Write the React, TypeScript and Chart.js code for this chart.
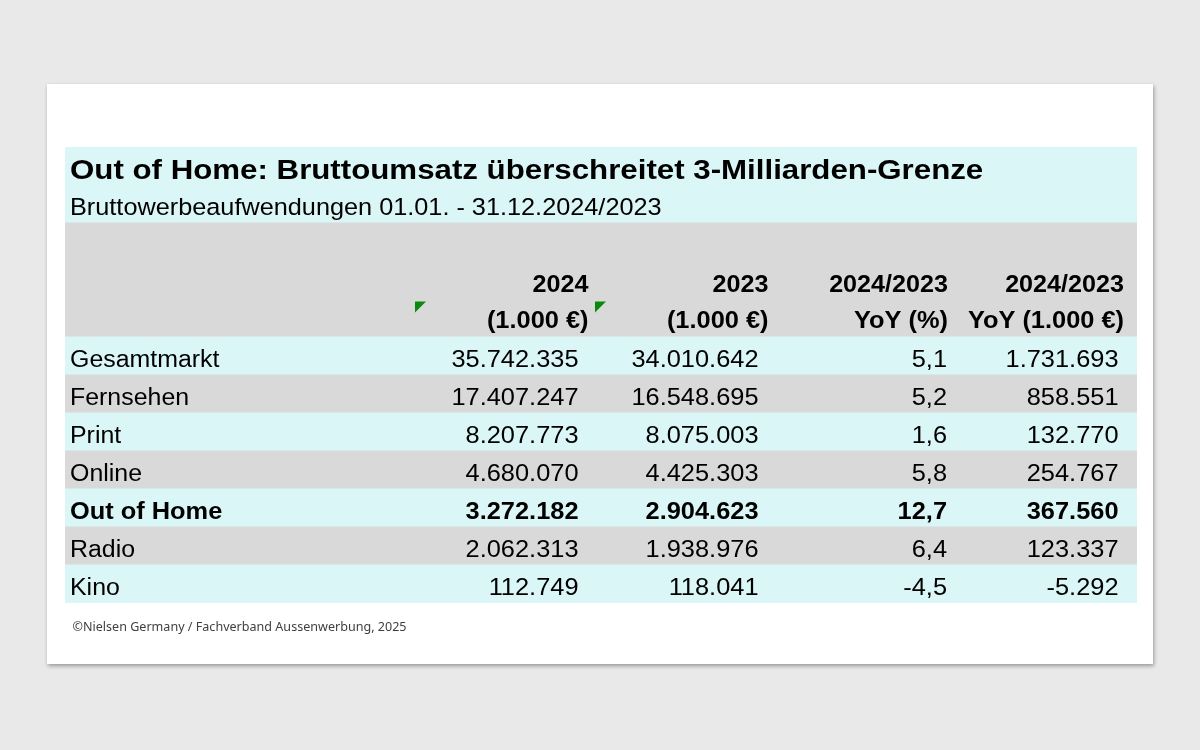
import React, { useEffect, useRef } from "react";
import { Chart, registerables } from "chart.js";

Chart.register(...registerables);

// ---- data ----
const TITLE = "Out of Home: Bruttoumsatz überschreitet 3-Milliarden-Grenze";
const SUBTITLE = "Bruttowerbeaufwendungen 01.01. - 31.12.2024/2023";
const SOURCE = "©Nielsen Germany / Fachverband Aussenwerbung, 2025";
const HEADER_LINE1 = ["2024", "2023", "2024/2023", "2024/2023"];
const HEADER_LINE2 = ["(1.000 €)", "(1.000 €)", "YoY (%)", "YoY (1.000 €)"];
const CATEGORIES = ["Gesamtmarkt", "Fernsehen", "Print", "Online", "Out of Home", "Radio", "Kino"];
const VALUES_2024 = [35742335, 17407247, 8207773, 4680070, 3272182, 2062313, 112749];
const VALUES_2023 = [34010642, 16548695, 8075003, 4425303, 2904623, 1938976, 118041];
const YOY_PCT = [5.1, 5.2, 1.6, 5.8, 12.7, 6.4, -4.5];
const YOY_ABS = [1731693, 858551, 132770, 254767, 367560, 123337, -5292];
const BOLD_ROWS = ["Out of Home"];

// ---- layout / style (not data) ----
const ROW_KEYS = ["title", "subtitle", "head1", "head2", "head3", ...CATEGORIES];
const TABLE_WIDTH = 1072;
const VALUE_RIGHT = [513.5, 693.5, 882, 1053.5];
const HEADER_RIGHT = [523.5, 703.5, 883, 1059];
const MARKERS = [350, 530];
const CYAN = "#dbf6f6";
const GRAY = "#d9d9d9";
const ROW_COLORS = [CYAN, CYAN, GRAY, GRAY, GRAY, CYAN, GRAY, CYAN, GRAY, CYAN, GRAY, CYAN];
const FONT = "'Liberation Sans', Arial, sans-serif";

function fmtInt(v: number): string {
  const neg = v < 0;
  const s = Math.abs(Math.round(v)).toString();
  let out = "";
  for (let i = 0; i < s.length; i++) {
    if (i > 0 && (s.length - i) % 3 === 0) out += ".";
    out += s[i];
  }
  return (neg ? "-" : "") + out;
}
function fmtDec(v: number): string {
  return v.toFixed(1).replace(".", ",");
}

function drawText(
  ctx: CanvasRenderingContext2D,
  text: string,
  x: number,
  y: number,
  align: CanvasTextAlign,
  font: string,
  sx: number,
  color = "#000"
) {
  ctx.save();
  ctx.translate(x, y);
  ctx.scale(sx, 1);
  ctx.font = font;
  ctx.fillStyle = color;
  ctx.textAlign = align;
  ctx.textBaseline = "alphabetic";
  ctx.fillText(text, 0, 0);
  ctx.restore();
}

const tablePlugin = {
  id: "tableText",
  afterDatasetsDraw(chart: any) {
    const ctx: CanvasRenderingContext2D = chart.ctx;
    const xs = chart.scales.x;
    const ys = chart.scales.y;
    const left = xs.getPixelForValue(0);
    const rowY = (i: number) => ys.getPixelForValue(i);
    const textX = left + 5;

    drawText(ctx, TITLE, textX, rowY(0) + 12.5, "left", `bold 28px ${FONT}`, 1.116);
    drawText(ctx, SUBTITLE, textX, rowY(1) + 11, "left", `23.7px ${FONT}`, 1.067);

    HEADER_LINE1.forEach((t, c) => {
      drawText(ctx, t, xs.getPixelForValue(HEADER_RIGHT[c]), rowY(3) + 11.5, "right", `bold 23.5px ${FONT}`, 1.07);
    });
    HEADER_LINE2.forEach((t, c) => {
      drawText(ctx, t, xs.getPixelForValue(HEADER_RIGHT[c]), rowY(4) + 10, "right", `bold 23.5px ${FONT}`, 1.08);
    });

    // green comment markers
    ctx.save();
    ctx.fillStyle = "#0a8a0a";
    MARKERS.forEach((m) => {
      const mx = xs.getPixelForValue(m);
      const my = rowY(4) - 16.5;
      ctx.beginPath();
      ctx.moveTo(mx, my);
      ctx.lineTo(mx + 11, my);
      ctx.lineTo(mx, my + 11);
      ctx.closePath();
      ctx.fill();
    });
    ctx.restore();

    CATEGORIES.forEach((cat, r) => {
      const y = rowY(5 + r) + 10.5;
      const bold = BOLD_ROWS.includes(cat);
      const f = `${bold ? "bold " : ""}23.5px ${FONT}`;
      drawText(ctx, cat, textX, y, "left", f, bold ? 1.08 : 1.06);
      const cells = [fmtInt(VALUES_2024[r]), fmtInt(VALUES_2023[r]), fmtDec(YOY_PCT[r]), fmtInt(YOY_ABS[r])];
      cells.forEach((t, c) => {
        drawText(ctx, t, xs.getPixelForValue(VALUE_RIGHT[c]), y, "right", f, 1.08);
      });
    });

    const bottom = chart.chartArea.bottom;
    drawText(ctx, SOURCE, left + 7.5, bottom + 27.7, "left", `12.5px 'Noto Sans', sans-serif`, 1.005, "#404040");
  },
};

export default function App() {
  const ref = useRef<HTMLCanvasElement>(null);
  useEffect(() => {
    if (!ref.current) return;
    const chart = new Chart(ref.current, {
      type: "bar",
      data: {
        labels: ROW_KEYS,
        datasets: [
          {
            data: ROW_KEYS.map(() => [0, TABLE_WIDTH]) as any,
            backgroundColor: ROW_COLORS,
            borderWidth: 0,
            categoryPercentage: 1,
            barPercentage: 1,
            inflateAmount: 0.5,
          } as any,
        ],
      },
      options: {
        indexAxis: "y",
        responsive: false,
        animation: false,
        devicePixelRatio: 1,
        layout: { padding: { left: 18, right: 16, top: 63, bottom: 61 } },
        scales: {
          x: { type: "linear", min: 0, max: TABLE_WIDTH, display: false },
          y: { type: "category", display: false, offset: true },
        },
        plugins: { legend: { display: false }, tooltip: { enabled: false } },
        events: [],
      },
      plugins: [tablePlugin],
    });
    return () => chart.destroy();
  }, []);

  return (
    <div style={{ position: "fixed", left: 0, top: 0, width: 1200, height: 750, background: "#e9e9e9" }}>
      <div
        style={{
          position: "absolute",
          left: 47,
          top: 84,
          width: 1106,
          height: 580,
          background: "#fff",
          boxShadow: "1px 2px 4px rgba(0,0,0,0.35)",
        }}
      >
        <canvas ref={ref} width={1106} height={580} style={{ display: "block" }} />
      </div>
    </div>
  );
}
